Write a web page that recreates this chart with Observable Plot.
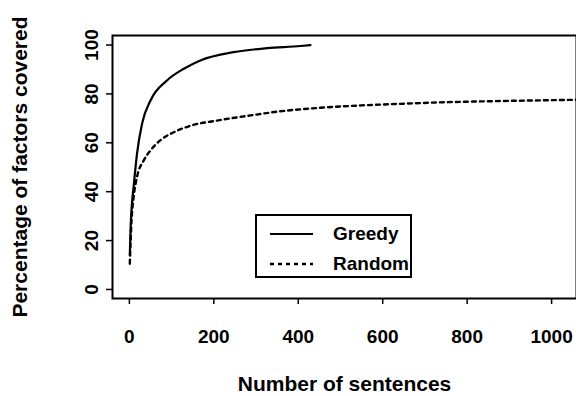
<!DOCTYPE html>
<html><head><meta charset="utf-8">
<script src="https://cdn.jsdelivr.net/npm/d3@7"></script>
<script src="https://cdn.jsdelivr.net/npm/@observablehq/plot@0.6"></script>
<style>
body{margin:0;background:#fff;}
#wrap{position:relative;width:576px;height:396px;font-family:"Liberation Sans",Arial,sans-serif;font-weight:bold;overflow:hidden;}
#legend{position:absolute;left:255px;top:214px;width:157px;height:64px;border:2px solid #000;box-sizing:border-box;background:#fff;font-size:19px;}
#legend .row{position:absolute;left:0;height:24px;display:flex;align-items:center;white-space:nowrap;}
#legend svg{display:block;}
</style></head><body><div id="wrap"></div>
<script>
const seriesNames = ["Greedy", "Random"];
const greedyX = [1, 3, 6, 10, 18, 30, 50, 89, 129, 168, 247, 326, 405, 429];
const greedyY = [14, 26, 35, 42, 55.5, 67.8, 77.3, 85.5, 90.3, 93.7, 97.1, 98.7, 99.6, 100];
const randomX = [1, 5, 10, 18, 34, 50, 73, 105, 145, 208, 287, 358, 450, 550, 650, 750, 850, 950, 1059];
const randomY = [10.5, 28, 37.8, 46, 52.8, 56.9, 61, 64.3, 67, 69.1, 71.2, 72.9, 74.3, 75.3, 76.0, 76.6, 77.0, 77.3, 77.6];
const xTicks = [0, 200, 400, 600, 800, 1000];
const yTicks = [0, 20, 40, 60, 80, 100];
const xTitle = "Number of sentences";
const yTitle = "Percentage of factors covered";

const greedy = greedyX.map((x, i) => ({series: seriesNames[0], x, y: greedyY[i]}));
const random = randomX.map((x, i) => ({series: seriesNames[1], x, y: randomY[i]}));

const chart = Plot.plot({
  width: 576, height: 396,
  marginLeft: 112, marginRight: 0, marginTop: 35, marginBottom: 98,
  style: {fontFamily: "'Liberation Sans', Arial, sans-serif", fontWeight: "bold", fontSize: "19px", color: "#000", background: "#fff"},
  x: {domain: [-40, 1059]},
  y: {domain: [-3.7, 103.9]},
  marks: [
    Plot.frame({stroke: "#000", strokeWidth: 2}),
    Plot.axisX(xTicks, {tickSize: 6, tickPadding: 25, label: null, strokeWidth: 1.5, fontSize: 19, tickFormat: d => String(d)}),
    Plot.axisY(yTicks, {tickSize: 6, tickPadding: 9, tickRotate: -90, label: null, strokeWidth: 1.5, fontSize: 19, tickFormat: d => String(d)}),
    Plot.line(greedy, {x: "x", y: "y", stroke: "#000", strokeWidth: 2.2, curve: "monotone-x"}),
    Plot.line(random, {x: "x", y: "y", stroke: "#000", strokeWidth: 2.4, strokeDasharray: "4,4", curve: "monotone-x"}),
    Plot.text([xTitle], {frameAnchor: "bottom", dy: 86, fontSize: 21, fontWeight: "bold", lineAnchor: "middle", textAnchor: "middle"}),
    Plot.text([yTitle], {frameAnchor: "left", dx: -92, rotate: -90, fontSize: 21, fontWeight: "bold", lineAnchor: "middle", textAnchor: "middle"})
  ]
});
const wrap = document.getElementById("wrap");
wrap.appendChild(chart);

const legend = document.createElement("div");
legend.id = "legend";
const styles = [null, "4,4"];
seriesNames.forEach((name, i) => {
  const row = document.createElement("div");
  row.className = "row";
  row.style.top = (i === 0 ? 6 : 36) + "px";
  row.innerHTML = `<svg width="76" height="24"><line x1="13" x2="56" y1="12" y2="12" stroke="#000" stroke-width="${i === 0 ? 2.2 : 2.4}" ${styles[i] ? `stroke-dasharray="${styles[i]}"` : ""}/></svg><span>${name}</span>`;
  legend.appendChild(row);
});
wrap.appendChild(legend);
</script>
</body></html>
